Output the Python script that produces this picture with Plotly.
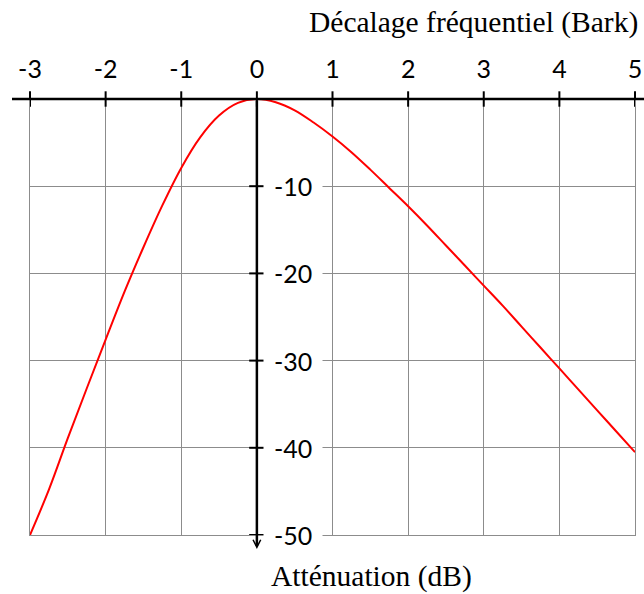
import plotly.graph_objects as go

# Frequency offset (Bark) and attenuation (dB)
bark = [-3.0, -2.75, -2.5, -2.25, -2.0, -1.75, -1.5, -1.25, -1.0, -0.75, -0.5, -0.25,
        0.0, 0.25, 0.5, 0.75, 1.0, 1.25, 1.5, 1.75, 2.0, 2.25, 2.5, 2.75,
        3.0, 3.25, 3.5, 3.75, 4.0, 4.25, 4.5, 4.75, 5.0]
atten = [-50.0, -44.8, -38.9, -33.2, -27.6, -22.1, -17.0, -12.2, -7.9, -4.4, -1.9, -0.45,
         0.0, -0.37, -1.3, -2.7, -4.3, -6.1, -8.1, -10.2, -12.3, -14.5, -16.8, -19.1,
         -21.4, -23.7, -26.1, -28.5, -30.9, -33.3, -35.7, -38.1, -40.5]

x_ticks = [-3, -2, -1, 0, 1, 2, 3, 4, 5]
y_ticks = [-10, -20, -30, -40, -50]
x_title = "Décalage fréquentiel (Bark)"
y_title = "Atténuation (dB)"

W, H = 644, 594
ML, MR, MT, MB = 30, 9, 99, 59
PW, PH = W - ML - MR, H - MT - MB

def px_x(p):
    return (p - ML) / PW

def px_y(p):
    return (H - MB - p) / PH

GRID = "rgb(140,140,140)"
TICK_FONT = dict(family="Lato", size=25, color="black")
TITLE_FONT = dict(family="Liberation Serif", size=29.5, color="black")

fig = go.Figure()

fig.add_trace(go.Scatter(
    x=bark, y=atten, mode="lines",
    line=dict(color="#ff0000", width=2, shape="spline"),
    hoverinfo="skip", showlegend=False))

# tick marks crossing the axes
fig.add_trace(go.Scatter(
    x=x_ticks, y=[0] * len(x_ticks), mode="markers",
    marker=dict(symbol="line-ns", size=11, line=dict(color="black", width=2)),
    cliponaxis=False, hoverinfo="skip", showlegend=False))
fig.add_trace(go.Scatter(
    x=[0] * len(y_ticks), y=y_ticks, mode="markers",
    marker=dict(symbol="line-ew", size=11, line=dict(color="black", width=2)),
    cliponaxis=False, hoverinfo="skip", showlegend=False))

# horizontal axis line (through y = 0, top of the plot)
fig.add_shape(type="line", xref="paper", yref="paper",
              x0=px_x(12), x1=1.05, y0=1, y1=1,
              line=dict(color="black", width=2.5), layer="above")

annotations = []
# vertical axis with arrow
annotations.append(dict(
    x=0, xref="x", y=px_y(549), yref="paper",
    ax=0, ay=-(549 - MT), axref="pixel", ayref="pixel",
    text="", showarrow=True, arrowhead=5, arrowsize=0.6,
    arrowwidth=2.5, arrowcolor="black", standoff=0, startstandoff=0))

# y tick labels with white background
for v in y_ticks:
    annotations.append(dict(
        x=0, xref="x", y=v, yref="y", text=str(v), showarrow=False,
        xanchor="left", yanchor="middle", xshift=6,
        bgcolor="white", borderpad=10, font=TICK_FONT))

annotations.append(dict(
    x=px_x(640), y=px_y(22), xref="paper", yref="paper",
    text=x_title, showarrow=False, xanchor="right", yanchor="middle",
    font=TITLE_FONT))
annotations.append(dict(
    x=px_x(371), y=px_y(576), xref="paper", yref="paper",
    text=y_title, showarrow=False, xanchor="center", yanchor="middle",
    font=TITLE_FONT))

fig.update_layout(
    width=W, height=H,
    margin=dict(l=ML, r=MR, t=MT, b=MB, pad=0),
    paper_bgcolor="white", plot_bgcolor="white",
    showlegend=False,
    annotations=annotations,
    xaxis=dict(
        range=[-3, 5], side="top", tickmode="array", tickvals=x_ticks,
        ticktext=[str(v) for v in x_ticks], tickfont=TICK_FONT,
        ticks="outside", ticklen=10, tickcolor="rgba(0,0,0,0)",
        showgrid=True, gridcolor=GRID, gridwidth=1,
        showline=True, mirror=True, linecolor=GRID, linewidth=1,
        zeroline=False, fixedrange=True, automargin=False),
    yaxis=dict(
        range=[-50, 0], tickmode="array", tickvals=y_ticks,
        showticklabels=False, ticks="",
        showgrid=True, gridcolor=GRID, gridwidth=1,
        showline=True, mirror=True, linecolor=GRID, linewidth=1,
        zeroline=False, fixedrange=True, automargin=False),
)

fig.write_html("out.html")
